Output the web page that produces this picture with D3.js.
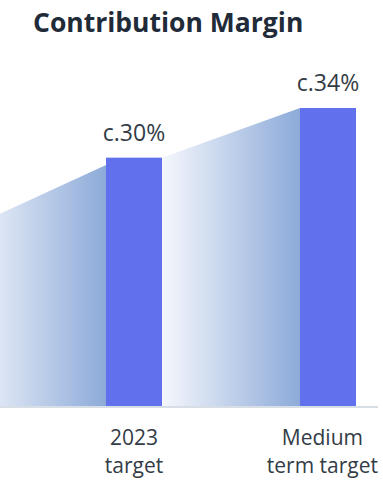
<!DOCTYPE html>
<meta charset="utf-8">
<style>
body { margin: 0; background: #fff; }
text { font-family: "Open Sans", sans-serif; }
.title { font-weight: 700; fill: #1f2b38; }
.value-label, .cat-label { fill: #333c46; }
</style>
<svg width="383" height="485"></svg>
<script src="https://cdn.jsdelivr.net/npm/d3@7"></script>
<script>

// data
let categories = ["2023 target", "Medium term target"];
let labelLines = [["2023", "target"], ["Medium", "term target"]];
let values = [30, 34];
let valueLabels = ["c.30%", "c.34%"];
// shaded connectors leading into each bar (first one starts from a bar off the left edge)
let connectorFrom = [24.3, 30];
let connectorTo = [29.4, 34];

let svg = d3.select("svg"),
    width = +svg.attr("width"),
    baseline = 406,
    barW = 56,
    rightEdge = 378;

let x = d3.scalePoint().domain(categories).range([134, 328]),
    step = x(categories[1]) - x(categories[0]),
    y = d3.scaleLinear().domain([10, 34]).range([baseline, 108]);

let defs = svg.append("defs");
let grad = defs.append("linearGradient")
    .attr("id", "conn")
    .attr("x1", "0%").attr("x2", "100%")
    .attr("y1", "0%").attr("y2", "0%");
grad.append("stop").attr("offset", "0%").attr("stop-color", "#f5f7fc");
grad.append("stop").attr("offset", "100%").attr("stop-color", "#8caad9");

svg.append("text")
    .attr("class", "title")
    .attr("x", 33)
    .attr("y", 32)
    .style("font-size", "26.5px")
    .text("Contribution Margin");

// connectors
let conn = categories.map(function(c, i) {
    let x1 = x(c) - step + barW / 2,
        x2 = x(c) - barW / 2;
    return [[x1, baseline], [x1, y(connectorFrom[i])], [x2, y(connectorTo[i])], [x2, baseline]];
});

svg.selectAll(".conn")
    .data(conn)
    .enter().append("path")
    .attr("class", "conn")
    .attr("d", function(d) { return d3.line()(d) + "Z"; })
    .attr("fill", "url(#conn)");

// axis line
svg.append("line")
    .attr("x1", 0).attr("x2", rightEdge)
    .attr("y1", baseline + 1).attr("y2", baseline + 1)
    .attr("stroke", "#d8dee6")
    .attr("stroke-width", 2);

svg.selectAll(".bar")
    .data(values)
    .enter().append("rect")
    .attr("class", "bar")
    .attr("x", function(d, i) { return x(categories[i]) - barW / 2; })
    .attr("y", function(d) { return y(d); })
    .attr("width", barW)
    .attr("height", function(d) { return baseline - y(d); })
    .attr("fill", "#6170ec");

svg.selectAll(".value-label")
    .data(values)
    .enter().append("text")
    .attr("class", "value-label")
    .attr("x", function(d, i) { return x(categories[i]); })
    .attr("y", function(d) { return y(d) - 17; })
    .attr("text-anchor", "middle")
    .style("font-size", "23px")
    .text(function(d, i) { return valueLabels[i]; });

let cat = svg.selectAll(".cat-label")
    .data(categories)
    .enter().append("text")
    .attr("class", "cat-label")
    .attr("text-anchor", "middle")
    .attr("x", function(d) { return x(d); })
    .attr("y", 445)
    .style("font-size", "21px");

cat.selectAll("tspan")
    .data(function(d, i) { return labelLines[i]; })
    .enter().append("tspan")
    .attr("x", function() { return x(d3.select(this.parentNode).datum()); })
    .attr("dy", function(d, i) { return i ? 28 : 0; })
    .text(function(d) { return d; });

// keep labels inside the chart's right edge
cat.each(function() {
    let b = this.getBBox(),
        shift = Math.min(0, rightEdge - (b.x + b.width));
    if (shift) d3.select(this).attr("transform", "translate(" + shift + ",0)");
});

</script>
